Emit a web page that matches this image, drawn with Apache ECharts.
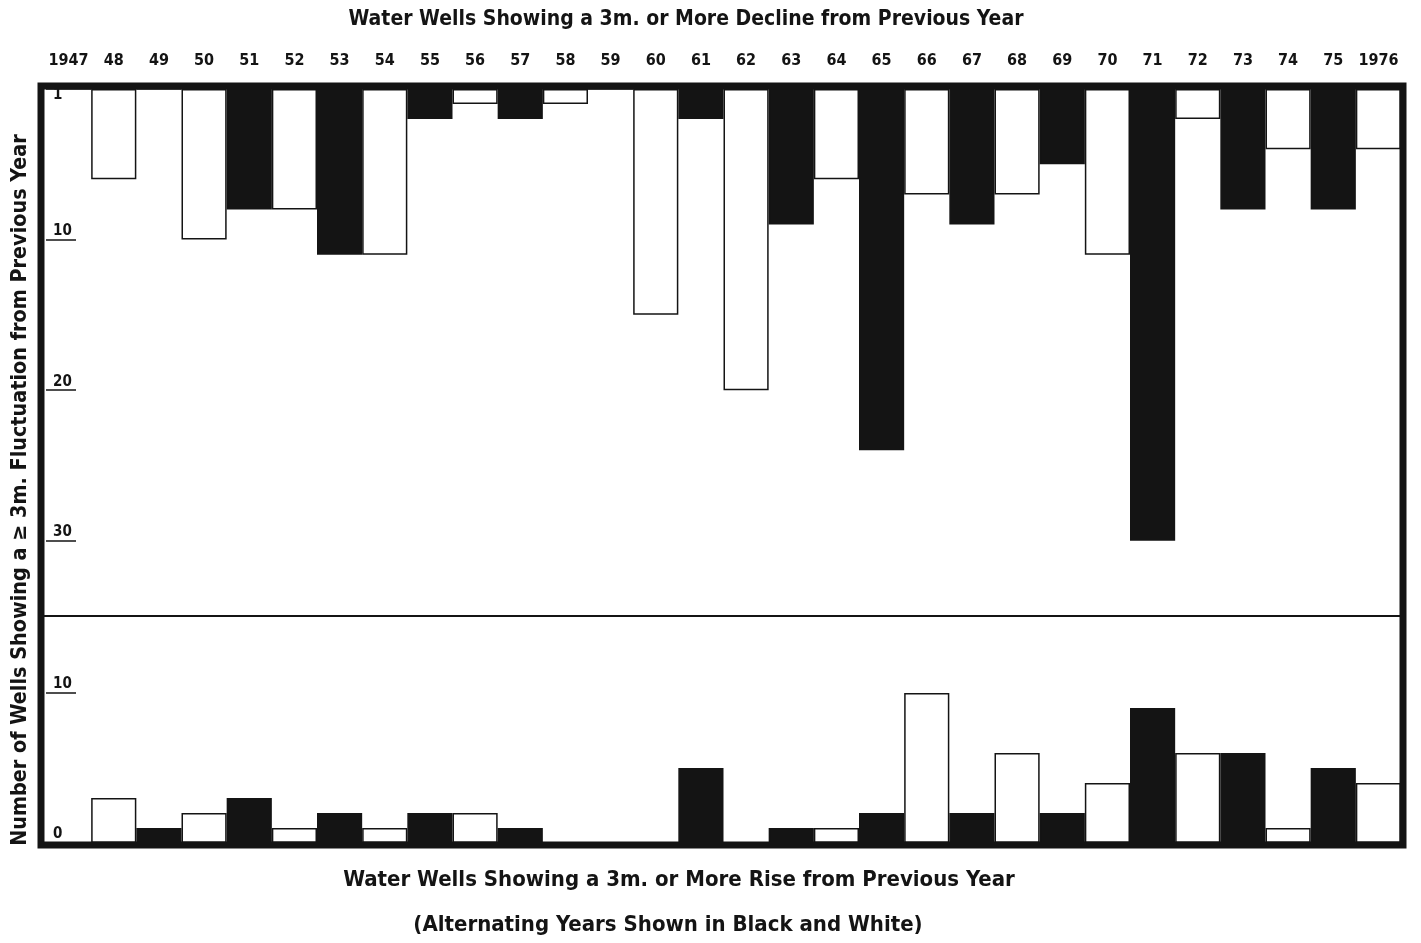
<!DOCTYPE html>
<html>
<head>
<meta charset="utf-8">
<script src="https://cdn.jsdelivr.net/npm/echarts@6/dist/echarts.min.js"></script>
<style>
html,body{margin:0;padding:0;background:#fff;}
#chart{width:1421px;height:943px;}
</style>
</head>
<body>
<div id="chart"></div>
<script>
const yearLabels = ['1947','48','49','50','51','52','53','54','55','56','57','58','59','60','61','62','63','64','65','66','67','68','69','70','71','72','73','74','75','1976'];
const declineWells = [0,6,0,10,8,8,11,11,2,1,2,1,0,15,2,20,9,6,24,7,9,7,5,11,30,2,8,4,8,4];
const riseWells = [0,3,1,2,3,1,2,1,2,2,1,0,0,0,5,0,1,1,2,10,2,6,2,4,9,6,6,1,5,4];
const declineTickLabels = [1,10,20,30];
const declineTickMarks = [10,20,30];
const riseTickLabels = [0,10];
const riseTickMarks = [10];

const FONT = "'Liberation Sans Narrow','DejaVu Sans Condensed','Liberation Sans',sans-serif";
const INK = '#141414';

const chart = echarts.init(document.getElementById('chart'), null, {renderer:'canvas'});
const barColor = p => (p.dataIndex % 2 === 0 ? INK : '#ffffff');

const yLabelStyle = {
  inside: true, margin: 7, verticalAlign: 'bottom', color: INK,
  fontFamily: FONT, fontWeight: 'bold', fontSize: 15, padding: [0,0,1,0]
};

chart.setOption({
  animation: false,
  backgroundColor: '#ffffff',
  grid: [
    {left: 46, right: 20, top: 89, height: 527},
    {left: 46, right: 20, top: 616, height: 227}
  ],
  xAxis: [
    {type:'category', gridIndex:0, position:'top', data: yearLabels, boundaryGap: true,
     axisLine:{show:false}, axisTick:{show:false}, splitLine:{show:false},
     axisLabel:{margin: 20, color: INK, fontFamily: FONT, fontWeight:'bold', fontSize: 16, interval: 0}},
    {type:'category', gridIndex:1, data: yearLabels, show:false, boundaryGap: true}
  ],
  yAxis: [
    {type:'value', gridIndex:0, inverse:true, min:0, max:35,
     axisLine:{show:false}, splitLine:{show:false},
     axisTick:{show:true, inside:true, length:30, customValues: declineTickMarks, lineStyle:{color:INK, width:1.5}},
     axisLabel: Object.assign({show:true, customValues: declineTickLabels}, yLabelStyle)},
    {type:'value', gridIndex:1, min:0, max:15.13,
     axisLine:{show:false}, splitLine:{show:false},
     axisTick:{show:true, inside:true, length:30, customValues: riseTickMarks, lineStyle:{color:INK, width:1.5}},
     axisLabel: Object.assign({show:true, customValues: riseTickLabels}, yLabelStyle)}
  ],
  series: [
    {type:'bar', xAxisIndex:0, yAxisIndex:0, data: declineWells, barCategoryGap:'0%',
     itemStyle:{color: barColor, borderColor: INK, borderWidth: 1.5}},
    {type:'bar', xAxisIndex:1, yAxisIndex:1, data: riseWells, barCategoryGap:'0%',
     itemStyle:{color: barColor, borderColor: INK, borderWidth: 1.5}}
  ],
  graphic: [
    {type:'rect', z: 100, shape:{x:41, y:86, width:1362, height:759},
     style:{fill:null, stroke: INK, lineWidth: 7}},
    {type:'line', z: 100, shape:{x1:44, y1:616, x2:1400, y2:616},
     style:{stroke: INK, lineWidth: 2}},
    {type:'text', z: 100, x: 686, y: 20,
     style:{text:'Water Wells Showing a 3m. or More Decline from Previous Year', fill: INK,
       font: 'bold 21px ' + FONT, textAlign:'center', textVerticalAlign:'middle'}},
    {type:'text', z: 100, x: 679, y: 880,
     style:{text:'Water Wells Showing a 3m. or More Rise from Previous Year', fill: INK,
       font: 'bold 22px ' + FONT, textAlign:'center', textVerticalAlign:'middle'}},
    {type:'text', z: 100, x: 668, y: 925,
     style:{text:'(Alternating Years Shown in Black and White)', fill: INK,
       font: 'bold 22px ' + FONT, textAlign:'center', textVerticalAlign:'middle'}},
    {type:'text', z: 100, x: 20, y: 490, rotation: Math.PI/2,
     style:{text:'Number of Wells Showing a \u2265 3m. Fluctuation from Previous Year', fill: INK,
       font: 'bold 21.4px ' + FONT, textAlign:'center', textVerticalAlign:'middle'}}
  ]
});
</script>
</body>
</html>
